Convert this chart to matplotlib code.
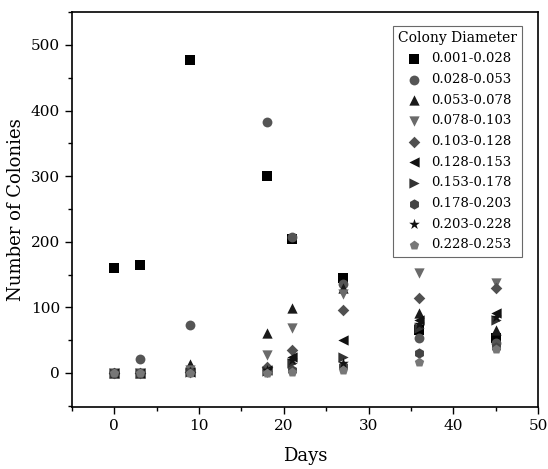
import matplotlib.pyplot as plt
from matplotlib.ticker import MultipleLocator

plt.rcParams['font.family'] = ['DejaVu Serif']

days = [0, 3, 9, 18, 21, 27, 36, 45]

labels = ['0.001-0.028', '0.028-0.053', '0.053-0.078', '0.078-0.103',
          '0.103-0.128', '0.128-0.153', '0.153-0.178', '0.178-0.203',
          '0.203-0.228', '0.228-0.253']

d1 = [160, 165, 477, 300, 204, 145, 65, 53]
d2 = [0, 22, 73, 382, 207, 135, 53, 46]
d3 = [0, 0, 13, 61, 99, 130, 91, 65]
d4 = [0, 0, 5, 28, 69, 121, 152, 137]
d5 = [0, 0, 2, 9, 35, 96, 114, 129]
d6 = [0, 0, 1, 4, 24, 50, 81, 91]
d7 = [0, 0, 1, 3, 15, 25, 69, 81]
d8 = [0, 0, 1, 1, 5, 10, 30, 40]
d9 = [0, 0, 1, 5, 20, 15, 75, 85]
d10 = [0, 0, 0, 0, 2, 5, 17, 36]

series = [d1, d2, d3, d4, d5, d6, d7, d8, d9, d10]
markers = ['s', 'o', '^', 'v', 'D', '<', '>', 'h', '*', 'p']
colors = ['#000000', '#555555', '#1a1a1a', '#6a6a6a', '#505050',
          '#111111', '#333333', '#444444', '#111111', '#777777']
sizes = [45, 50, 55, 55, 35, 55, 55, 55, 65, 50]

fig = plt.figure(figsize=(5.48, 4.69), dpi=100)
ax = fig.add_axes([0.131, 0.132, 0.851, 0.842])

for vals, lab, m, c, s in zip(series, labels, markers, colors, sizes):
    ax.scatter(days, vals, marker=m, color=c, s=s, label=lab, linewidths=0)

ax.set_xlim(-5, 50)
ax.set_ylim(-52, 550)
ax.xaxis.set_major_locator(MultipleLocator(10))
ax.xaxis.set_minor_locator(MultipleLocator(5))
ax.yaxis.set_major_locator(MultipleLocator(100))
ax.yaxis.set_minor_locator(MultipleLocator(50))
ax.tick_params(direction='out', which='major', length=5, width=1, labelsize=11)
ax.tick_params(direction='out', which='minor', length=3, width=1)
for sp in ax.spines.values():
    sp.set_linewidth(1.2)

ax.set_xlabel('Days', fontsize=13, labelpad=10)
ax.set_ylabel('Number of Colonies', fontsize=13, labelpad=4)

leg = ax.legend(title='Colony Diameter', loc='upper right', fontsize=9.5,
                title_fontsize=10, fancybox=False, edgecolor='#444444',
                handletextpad=0.5, handlelength=1.6, borderpad=0.4,
                labelspacing=0.58, bbox_to_anchor=(0.98, 0.983))
leg.get_frame().set_linewidth(0.8)

fig.savefig('out.png', dpi=100)
